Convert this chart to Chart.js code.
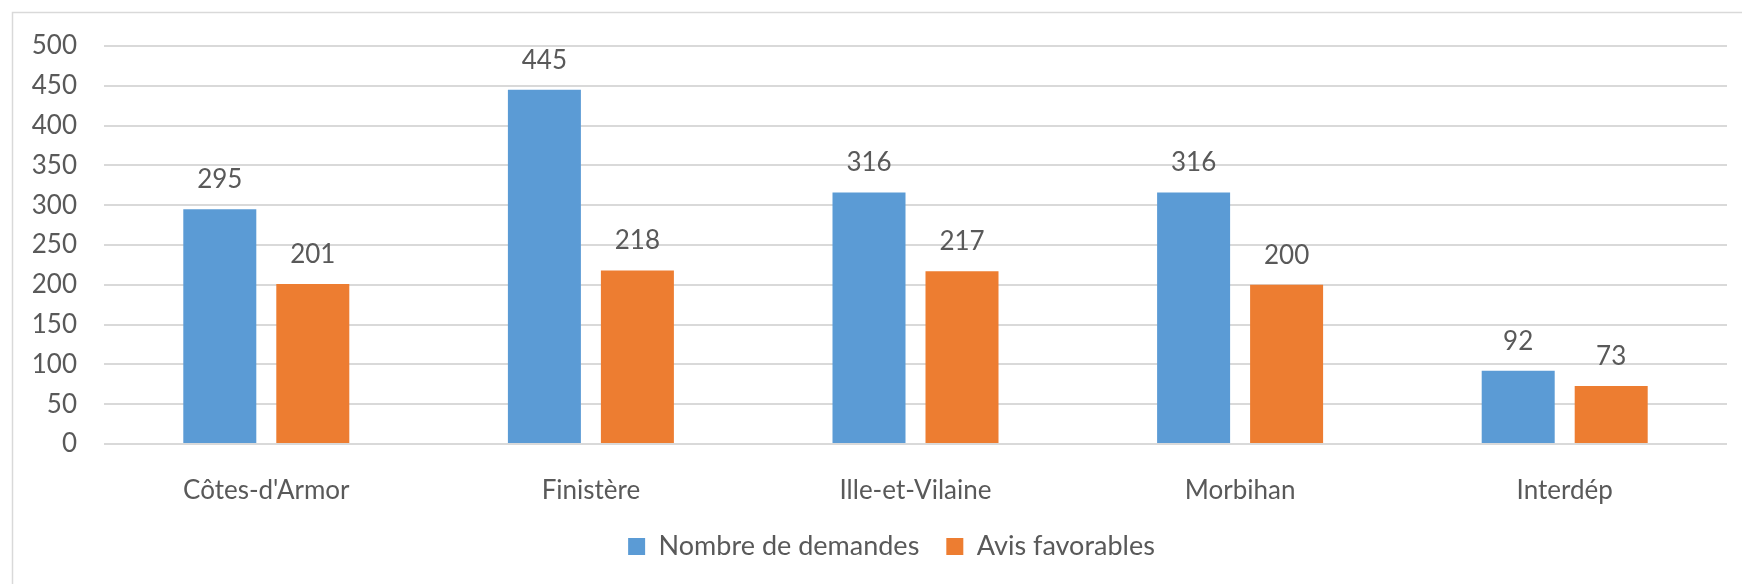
<!DOCTYPE html>
<html>
<head>
<meta charset="utf-8">
<script src="https://cdn.jsdelivr.net/npm/chart.js@4"></script>
<style>
  body { margin: 0; background: #fff; }
  #wrap { position: relative; width: 1742px; height: 584px; }
</style>
</head>
<body>
<div id="wrap"><canvas id="chart" width="1742" height="584"></canvas></div>
<script>
// data
let departements = ["Côtes-d'Armor", "Finistère", "Ille-et-Vilaine", "Morbihan", "Interdép"];
let demandes = [295, 445, 316, 316, 92];
let favorables = [201, 218, 217, 200, 73];
let yTicks = [0, 50, 100, 150, 200, 250, 300, 350, 400, 450, 500];

let textColor = "#595959";
let gridColor = "#d9d9d9";
let fontFamily = "Lato, 'Open Sans', sans-serif";
let fontSize = 26;

// frame round the chart (cut at right and bottom in the reference)
let framePlugin = {
  id: "frame",
  beforeDraw(chart) {
    let ctx = chart.ctx;
    ctx.save();
    ctx.fillStyle = "#fff";
    ctx.fillRect(0, 0, chart.width, chart.height);
    ctx.strokeStyle = gridColor;
    ctx.lineWidth = 1.5;
    ctx.beginPath();
    ctx.moveTo(12.5, chart.height);
    ctx.lineTo(12.5, 12.5);
    ctx.lineTo(chart.width, 12.5);
    ctx.stroke();
    ctx.restore();
  },
  // legend in the reference sits a bit right of the canvas centre
  afterLayout(chart) {
    chart.legend.left += 28;
    chart.legend.right += 28;
  },
};

// value above every bar
let valueLabels = {
  id: "valueLabels",
  afterDatasetsDraw(chart) {
    let ctx = chart.ctx;
    ctx.save();
    ctx.font = fontSize + "px " + fontFamily;
    ctx.fillStyle = textColor;
    ctx.textAlign = "center";
    ctx.textBaseline = "alphabetic";
    chart.data.datasets.forEach(function (ds, i) {
      chart.getDatasetMeta(i).data.forEach(function (bar, j) {
        ctx.fillText(ds.data[j], bar.x, bar.y - 21);
      });
    });
    ctx.restore();
  },
};

let chart = new Chart(document.getElementById("chart"), {
  type: "bar",
  data: {
    labels: departements,
    datasets: [
      { label: "Nombre de demandes", data: demandes, backgroundColor: "#5b9bd5" },
      { label: "Avis favorables", data: favorables, backgroundColor: "#ed7d31" },
    ],
  },
  options: {
    responsive: false,
    animation: false,
    events: [],
    categoryPercentage: 0.573,
    barPercentage: 0.785,
    layout: { padding: { top: 46, right: 15, left: 0, bottom: 14 } },
    scales: {
      x: {
        grid: { display: false },
        border: { display: false },
        ticks: { color: textColor, font: { family: fontFamily, size: fontSize }, padding: 23 },
        afterFit(scale) { scale.height = 62; },
      },
      y: {
        min: 0,
        max: 500,
        afterBuildTicks(scale) { scale.ticks = yTicks.map(v => ({ value: v })); },
        grid: { color: gridColor, lineWidth: 2, drawTicks: false },
        border: { display: false },
        ticks: { color: textColor, font: { family: fontFamily, size: fontSize }, padding: 27 },
        afterFit(scale) { scale.width = 104; },
      },
    },
    plugins: {
      tooltip: { enabled: false },
      legend: {
        position: "bottom",
        labels: {
          color: textColor,
          font: { family: fontFamily, size: 27 },
          boxWidth: 17,
          boxHeight: 17,
          padding: 27,
        },
      },
    },
  },
  plugins: [framePlugin, valueLabels],
});
</script>
</body>
</html>
